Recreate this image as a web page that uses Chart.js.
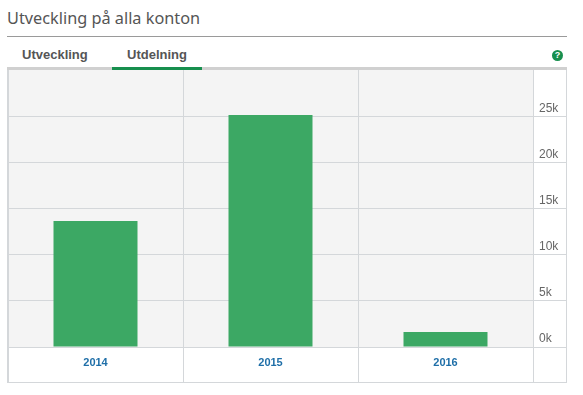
<!DOCTYPE html>
<html><head><meta charset="utf-8">
<style>
html,body{margin:0;padding:0;background:#fff;width:583px;height:395px;overflow:hidden}
#title{position:absolute;left:7px;top:7px;font:16.3px "Noto Sans",sans-serif;color:#555;white-space:nowrap}
#rule{position:absolute;left:7px;top:36px;width:560px;height:1px;background:#9a9a9a}
.tab{position:absolute;top:47px;font:bold 13px "Liberation Sans",Arial,sans-serif;color:#555}
#band{position:absolute;left:7px;top:67px;width:560px;height:3px;background:#d0d0d0}
#active{position:absolute;left:112px;top:67px;width:90px;height:3px;background:#178f4e}
#help{position:absolute;left:552px;top:50px;width:11px;height:11px;border-radius:50%;background:#178f4e;color:#fff;font:bold 9px/11px "Liberation Sans",Arial,sans-serif;text-align:center}
#wrap{position:absolute;left:7px;top:70px;width:560px;height:313px}
</style></head><body>
<div id="title">Utveckling på alla konton</div>
<div id="rule"></div>
<div class="tab" style="left:22px">Utveckling</div>
<div class="tab" style="left:127px">Utdelning</div>
<div id="band"></div><div id="active"></div>
<div id="help">?</div>
<div id="wrap"><canvas id="c" width="560" height="313"></canvas></div>
<script src="https://cdn.jsdelivr.net/npm/chart.js@4"></script>
<script>
const categories = ["2014", "2015", "2016"];
const dividends = [13700, 25200, 1630];
const tickValues = [0, 5000, 10000, 15000, 20000, 25000];
const axisMax = 30100;

const gridColor = "#d4d7da";
const plotBackground = {
  id: "plotBackground",
  beforeDraw(chart) {
    const { ctx, chartArea: a, width, height } = chart;
    ctx.save();
    ctx.fillStyle = "#f4f4f4";
    ctx.fillRect(a.left, a.top, a.right - a.left, a.bottom - a.top);
    ctx.fillStyle = gridColor;
    ctx.fillRect(width - 1, 0, 1, height);
    ctx.fillRect(0, height - 1, width, 1);
    ctx.fillRect(0, 0, 1, height);
    ctx.restore();
  }
};

new Chart(document.getElementById("c"), {
  type: "bar",
  data: {
    labels: categories,
    datasets: [{ data: dividends, backgroundColor: "#3ca864", borderWidth: 0,
      barPercentage: 0.48, categoryPercentage: 1 }]
  },
  plugins: [plotBackground],
  options: {
    responsive: false,
    animation: false,
    devicePixelRatio: 1,
    layout: { padding: { left: 1 } },
    plugins: { legend: { display: false }, tooltip: { enabled: false } },
    scales: {
      x: {
        border: { color: gridColor },
        grid: { color: gridColor, tickLength: 35, tickColor: gridColor, offset: true },
        ticks: { color: "#1f6fa8", font: { family: "Liberation Sans", size: 11, weight: "bold" },
          padding: -26, maxRotation: 0 },
        afterFit(s) { s.height = 36; }
      },
      y: {
        position: "right",
        min: 0, max: axisMax,
        afterBuildTicks(s) { s.ticks = tickValues.map(value => ({ value })); },
        border: { color: gridColor },
        grid: { color: gridColor, tickLength: 33, tickColor: gridColor },
        ticks: {
          color: "#666",
          font: { family: "Liberation Sans", size: 12, lineHeight: 16 / 12 },
          padding: -27,
          callback: v => [(v / 1000) + "k", ""]
        },
        afterFit(s) { s.width = 34; }
      }
    }
  }
});
</script>
</body></html>
